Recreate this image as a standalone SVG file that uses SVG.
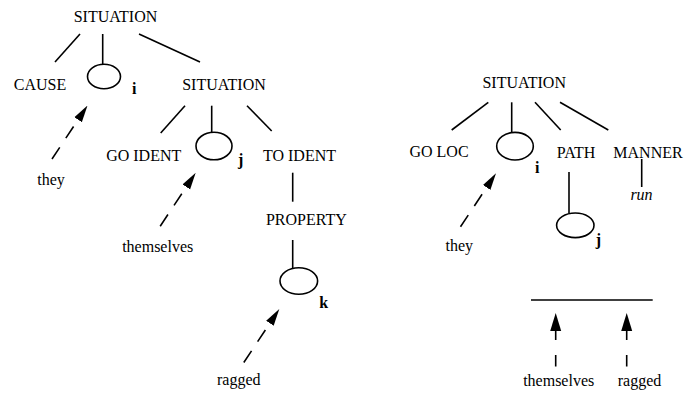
<svg xmlns="http://www.w3.org/2000/svg" width="685" height="395" viewBox="0 0 685 395">
  <style>
    text { font-family: "Liberation Serif", "Times New Roman", serif; font-size: 16px; fill: #000; }
    .lbl { text-anchor: middle; }
    .idx { font-weight: bold; }
    .it { font-style: italic; }
    .edge { stroke: #000; stroke-width: 1.6; fill: none; }
    .var { stroke: #000; stroke-width: 1.6; fill: #fff; }
    .dash { stroke: #000; stroke-width: 1.6; fill: none; stroke-dasharray: 14 11 14 20; marker-end: url(#head); }
    .up { stroke: #000; stroke-width: 1.6; fill: none; stroke-dasharray: 11.5 15 20; marker-end: url(#headUp); }
  </style>
  <defs>
    <marker id="head" viewBox="0 -5 17 10" markerWidth="17" markerHeight="10" refX="0" refY="0" orient="auto" markerUnits="userSpaceOnUse">
      <path d="M0,-4.5 L17,0 L0,4.5 Z" fill="#000"/>
    </marker>
    <marker id="headUp" viewBox="0 -6 18 12" markerWidth="18" markerHeight="12" refX="0" refY="0" orient="auto" markerUnits="userSpaceOnUse">
      <path d="M0,-5.5 L18,0 L0,5.5 Z" fill="#000"/>
    </marker>
  </defs>

  <!-- connectors -->
  <g id="connectors">
    <!-- left tree -->
    <line class="edge" x1="80" y1="34" x2="55" y2="62"/>
    <line class="edge" x1="102.7" y1="34" x2="102.7" y2="64.5"/>
    <line class="edge" x1="139" y1="34" x2="200" y2="62"/>
    <line class="edge" x1="185" y1="105.7" x2="160.7" y2="133"/>
    <line class="edge" x1="211.7" y1="105.7" x2="211.7" y2="132"/>
    <line class="edge" x1="247" y1="105.7" x2="271.7" y2="131"/>
    <line class="edge" x1="292.7" y1="172.7" x2="292.7" y2="201.7"/>
    <line class="edge" x1="292.7" y1="240" x2="292.7" y2="268.5"/>
    <!-- right tree -->
    <line class="edge" x1="488.3" y1="102.3" x2="451.7" y2="130"/>
    <line class="edge" x1="511.7" y1="102.3" x2="511.7" y2="132.8"/>
    <line class="edge" x1="535" y1="102.3" x2="560.7" y2="130"/>
    <line class="edge" x1="560" y1="102.3" x2="608.3" y2="130"/>
    <line class="edge" x1="569" y1="172" x2="569" y2="213.5"/>
    <line class="edge" x1="641.7" y1="159" x2="641.7" y2="187"/>
    <line class="edge" x1="531" y1="300" x2="652.7" y2="300" stroke-width="2"/>
    <!-- binding arrows -->
    <line class="dash" x1="52" y1="159" x2="78.1" y2="119.7"/>
    <line class="dash" x1="160.2" y1="226.2" x2="186.3" y2="186.9"/>
    <line class="dash" x1="243.8" y1="362.5" x2="269.9" y2="323.2"/>
    <line class="dash" x1="460.5" y1="226.8" x2="486.6" y2="187.5"/>
    <line class="up" x1="555.7" y1="366.5" x2="555.7" y2="331"/>
    <line class="up" x1="626.7" y1="366.5" x2="626.7" y2="331"/>
  </g>

  <!-- left tree nodes -->
  <g id="sit-top"><text class="lbl" x="115.5" y="22">SITUATION</text></g>
  <g id="cause"><text class="lbl" x="40" y="90">CAUSE</text></g>
  <g id="var-i"><ellipse class="var" cx="104" cy="76.5" rx="16.5" ry="12.2"/><text class="idx" x="132" y="94">i</text></g>
  <g id="sit-inner"><text class="lbl" x="224" y="90">SITUATION</text></g>
  <g id="go-ident"><text class="lbl" x="143.7" y="160.7">GO IDENT</text></g>
  <g id="var-j"><ellipse class="var" cx="214" cy="146" rx="18" ry="13.8"/><text class="idx" x="238" y="165">j</text></g>
  <g id="to-ident"><text class="lbl" x="299.5" y="160.7">TO IDENT</text></g>
  <g id="property"><text class="lbl" x="306.3" y="225">PROPERTY</text></g>
  <g id="var-k"><ellipse class="var" cx="298.8" cy="281" rx="18.8" ry="13.3"/><text class="idx" x="319.3" y="308.3">k</text></g>
  <g id="they-l"><text class="lbl" x="51" y="185">they</text></g>
  <g id="themselves-l"><text class="lbl" x="157.7" y="252">themselves</text></g>
  <g id="ragged-l"><text class="lbl" x="238.8" y="385">ragged</text></g>

  <!-- right tree nodes -->
  <g id="sit-right"><text class="lbl" x="524.2" y="88.3">SITUATION</text></g>
  <g id="go-loc"><text class="lbl" x="439" y="156.7">GO LOC</text></g>
  <g id="var-i-r"><ellipse class="var" cx="515" cy="146.2" rx="18.3" ry="13.8"/><text class="idx" x="535" y="173.3">i</text></g>
  <g id="path"><text class="lbl" x="576" y="158.3">PATH</text></g>
  <g id="manner"><text class="lbl" x="648" y="158.3">MANNER</text></g>
  <g id="run"><text class="lbl it" x="641.5" y="200">run</text></g>
  <g id="var-j-r"><ellipse class="var" cx="575.3" cy="225.3" rx="18.7" ry="12.3"/><text class="idx" x="595.7" y="245">j</text></g>
  <g id="they-r"><text class="lbl" x="459.3" y="251">they</text></g>
  <g id="themselves-r"><text class="lbl" x="558.7" y="386">themselves</text></g>
  <g id="ragged-r"><text class="lbl" x="639.5" y="386">ragged</text></g>
</svg>
